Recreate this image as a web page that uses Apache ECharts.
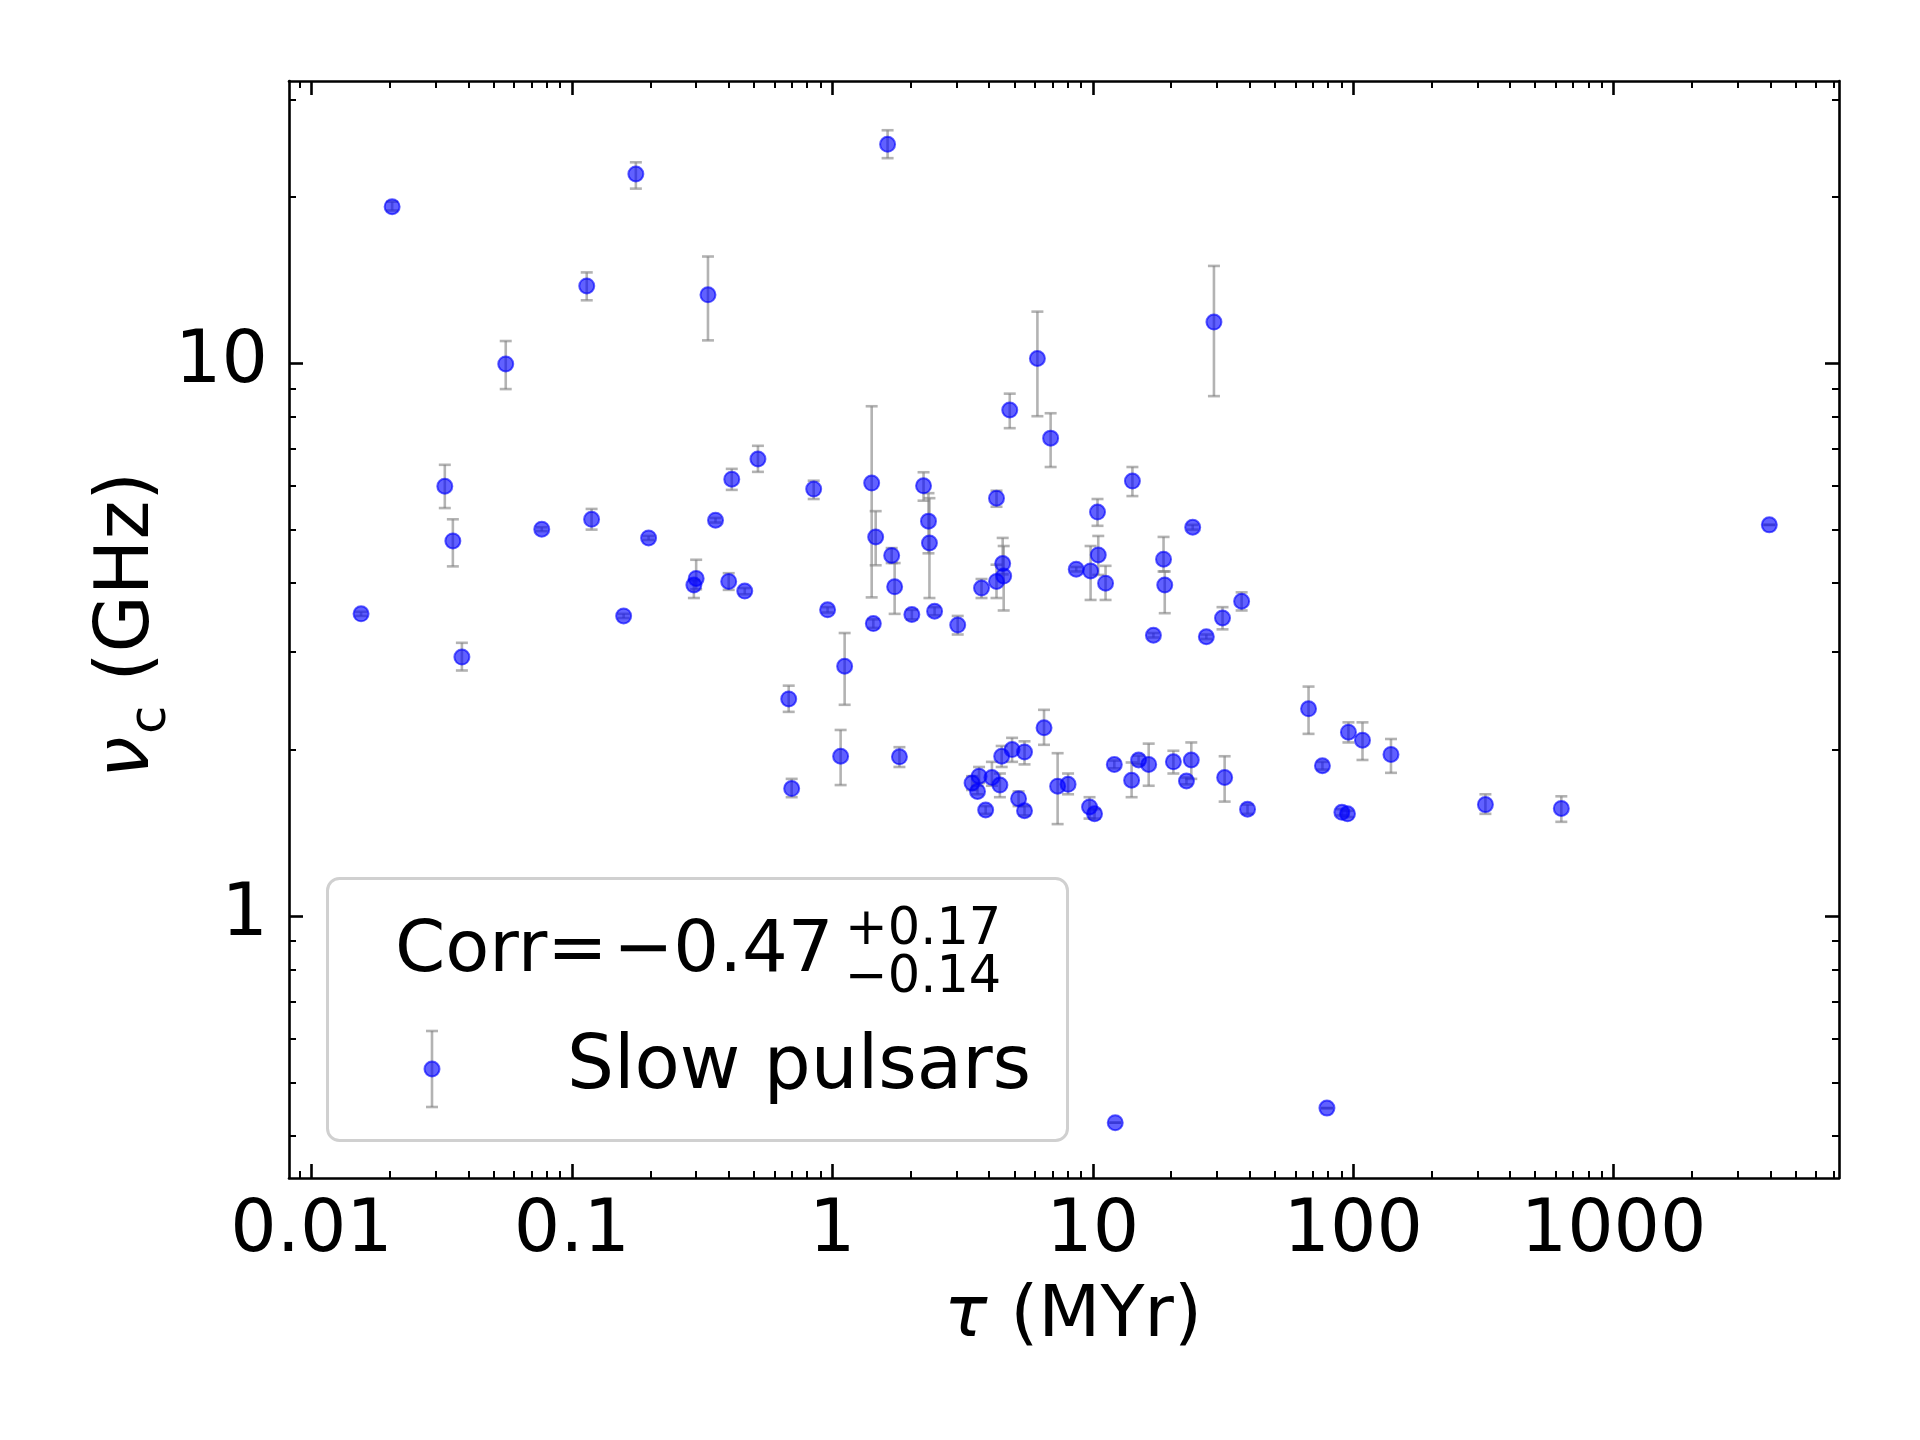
<!DOCTYPE html>
<html>
<head>
<meta charset="utf-8">
<script src="https://cdn.jsdelivr.net/npm/echarts@6/dist/echarts.min.js"></script>
<style>
html,body{margin:0;padding:0;background:#fff;}
#chart{width:1920px;height:1440px;}
</style>
</head>
<body>
<div id="chart"></div>
<script>
// ---- data (tau in MYr, nu_c in GHz, error bar upper / lower ends in GHz) ----
const tau = [0.0155,0.0204,0.0325,0.0349,0.0378,0.0557,0.0766,0.114,0.119,0.158,
  0.176,0.197,0.294,0.300,0.333,0.356,0.400,0.411,0.461,0.518,
  0.680,0.698,0.848,0.959,1.076,1.115,1.416,1.437,1.467,1.63,
  1.69,1.735,1.81,2.02,2.24,2.34,2.36,2.47,3.03,3.44,
  3.61,3.66,3.74,3.88,4.10,4.27,4.27,4.40,4.47,4.51,
  4.55,4.80,4.90,5.19,5.47,5.47,6.13,6.5,6.89,7.33,
  8.04,8.64,9.72,9.81,10.16,10.43,10.5,11.2,12.1,12.2,
  14.1,14.2,15.0,16.4,17.1,18.7,18.9,20.4,22.9,23.9,
  24.2,27.3,29.2,31.5,32.1,37.3,39.3,67.4,76.2,79.3,
  90.5,95.1,95.9,108.6,139.7,322,630,3963];
const nu = [3.52,19.2,5.99,4.77,2.94,9.97,5.01,13.8,5.22,3.49,
  22.0,4.83,3.97,4.08,13.3,5.20,4.03,6.17,3.87,6.71,
  2.47,1.70,5.92,3.58,1.945,2.83,6.07,3.38,4.85,24.9,
  4.49,3.94,1.94,3.51,6.00,5.18,4.73,3.56,3.36,1.74,
  1.68,1.79,3.92,1.555,1.78,5.70,4.03,1.725,1.945,4.34,
  4.12,8.23,2.00,1.63,1.98,1.55,10.2,2.19,7.32,1.717,
  1.73,4.24,1.575,4.21,1.53,5.38,4.50,4.00,1.88,0.4225,
  1.76,6.12,1.915,1.88,3.22,4.42,3.97,1.90,1.755,1.915,
  5.05,3.20,11.87,3.46,1.78,3.71,1.56,2.37,1.87,0.449,
  1.54,1.53,2.15,2.08,1.96,1.59,1.565,5.10];
const nuUp = [3.55,19.6,6.55,5.22,3.12,10.97,5.05,14.6,5.45,3.52,
  23.1,4.87,4.05,4.41,15.6,5.25,4.17,6.44,3.92,7.09,
  2.61,1.77,6.13,3.62,2.17,3.25,8.36,3.44,5.40,26.4,
  4.63,4.35,2.02,3.58,6.35,5.82,5.70,3.62,3.49,1.79,
  1.72,1.86,4.07,1.58,1.90,5.88,4.32,1.81,2.03,4.83,
  4.67,8.81,2.10,1.68,2.07,1.58,12.4,2.36,8.12,1.97,
  1.81,4.28,1.64,4.67,1.56,5.68,4.87,4.30,1.91,0.4225,
  1.895,6.49,1.95,2.05,3.25,4.85,4.20,1.99,1.78,2.06,
  5.10,3.23,15.0,3.62,1.945,3.85,1.59,2.60,1.90,0.449,
  1.56,1.55,2.24,2.24,2.09,1.66,1.646,5.10];
const nuLow = [3.49,18.9,5.47,4.29,2.78,8.98,4.97,13.0,5.00,3.46,
  20.7,4.79,3.76,3.90,11.0,5.15,3.89,5.90,3.82,6.36,
  2.34,1.64,5.68,3.54,1.725,2.41,3.77,3.32,4.31,23.5,
  4.35,3.52,1.86,3.44,5.64,4.53,3.76,3.50,3.23,1.69,
  1.66,1.74,3.76,1.53,1.72,5.50,3.76,1.64,1.86,4.15,
  3.57,7.63,1.90,1.58,1.88,1.52,8.02,2.04,6.49,1.466,
  1.66,4.20,1.50,3.73,1.50,5.08,4.14,3.73,1.85,0.4225,
  1.64,5.75,1.88,1.72,3.19,4.20,3.53,1.81,1.73,1.77,
  5.00,3.17,8.72,3.30,1.61,3.57,1.53,2.135,1.84,0.449,
  1.52,1.51,2.06,1.915,1.815,1.53,1.48,5.10];

const xTickValues = [0.01, 0.1, 1, 10, 100, 1000];
const xTickLabels = ['0.01', '0.1', '1', '10', '100', '1000'];
const yTickValues = [1, 10];
const yTickLabels = ['1', '10'];

const seriesName = 'Slow pulsars';
const corrLead = 'Corr=';
const corrValue = '\u22120.47';
const corrUp = '+0.17';
const corrDown = '\u22120.14';

// ---- layout ----
const X_MIN = -2.0864, X_MAX = 3.8656;
const Y_MIN = -0.4742, Y_MAX = 1.5107;
const FONT = 'DejaVu Sans';
const gridBox = {left: 289, top: 81, right: 81, bottom: 262};

const lg = Math.log10;
function minorTicks(lo, hi) {
  const out = [];
  for (let n = -4; n <= 4; n++) {
    for (let k = 2; k <= 9; k++) {
      const v = lg(k) + n;
      if (v > lo && v < hi) out.push(v);
    }
  }
  return out;
}
const xMajor = xTickValues.map(lg);
const yMajor = yTickValues.map(lg);
const xMinor = minorTicks(X_MIN, X_MAX);
const yMinor = minorTicks(Y_MIN, Y_MAX);

function labelFor(values, labels) {
  return function (v) {
    for (let i = 0; i < values.length; i++) {
      if (Math.abs(lg(values[i]) - v) < 1e-6) return labels[i];
    }
    return '';
  };
}

function xAxisDef(gridIndex, position, major, showLabel) {
  return {
    type: 'value', gridIndex: gridIndex, position: position,
    min: X_MIN, max: X_MAX,
    splitLine: {show: false},
    axisLine: {show: major, onZero: false, lineStyle: {color: '#000', width: 2.6}},
    axisTick: {show: true, inside: true, length: major ? 14 : 7,
      customValues: major ? xMajor : xMinor,
      lineStyle: {color: '#000', width: major ? 2.6 : 2}},
    axisLabel: {show: showLabel, customValues: xMajor, formatter: labelFor(xTickValues, xTickLabels),
      margin: 54, verticalAlign: 'middle', color: '#000', fontFamily: FONT, fontSize: 73, lineHeight: 73},
    z: 10
  };
}
function yAxisDef(gridIndex, position, major, showLabel) {
  return {
    type: 'value', gridIndex: gridIndex, position: position,
    min: Y_MIN, max: Y_MAX,
    splitLine: {show: false},
    axisLine: {show: major, onZero: false, lineStyle: {color: '#000', width: 2.6}},
    axisTick: {show: true, inside: true, length: major ? 14 : 7,
      customValues: major ? yMajor : yMinor,
      lineStyle: {color: '#000', width: major ? 2.6 : 2}},
    axisLabel: {show: showLabel, customValues: yMajor, formatter: labelFor(yTickValues, yTickLabels),
      margin: 21, align: 'right', verticalAlign: 'middle', color: '#000', fontFamily: FONT, fontSize: 73},
    z: 10
  };
}

const errData = tau.map((t, i) => [lg(t), lg(nuUp[i]), lg(nuLow[i])]);
const ptData = tau.map((t, i) => [lg(t), lg(nu[i])]);

const ERR_COLOR = 'rgba(128,128,128,0.6)';
const PT_COLOR = 'rgba(0,0,255,0.62)';

const chart = echarts.init(document.getElementById('chart'), null, {renderer: 'canvas'});
chart.setOption({
  animation: false,
  backgroundColor: '#ffffff',
  grid: [Object.assign({}, gridBox), Object.assign({}, gridBox)],
  xAxis: [
    xAxisDef(0, 'bottom', true, true),
    xAxisDef(0, 'top', true, false),
    xAxisDef(1, 'bottom', false, false),
    xAxisDef(1, 'top', false, false)
  ],
  yAxis: [
    yAxisDef(0, 'left', true, true),
    yAxisDef(0, 'right', true, false),
    yAxisDef(1, 'left', false, false),
    yAxisDef(1, 'right', false, false)
  ],
  series: [
    {
      type: 'custom', name: seriesName + ' err', xAxisIndex: 0, yAxisIndex: 0,
      data: errData, encode: {x: 0, y: [1, 2]}, z: 2, clip: true,
      renderItem: function (params, api) {
        const x = api.value(0);
        const p1 = api.coord([x, api.value(1)]);
        const p2 = api.coord([x, api.value(2)]);
        const hw = 6;
        const st = {stroke: ERR_COLOR, lineWidth: 2.6};
        return {type: 'group', children: [
          {type: 'line', shape: {x1: p1[0], y1: p1[1], x2: p2[0], y2: p2[1]}, style: st},
          {type: 'line', shape: {x1: p1[0] - hw, y1: p1[1], x2: p1[0] + hw, y2: p1[1]}, style: st},
          {type: 'line', shape: {x1: p2[0] - hw, y1: p2[1], x2: p2[0] + hw, y2: p2[1]}, style: st}
        ]};
      }
    },
    {
      type: 'scatter', name: seriesName, xAxisIndex: 0, yAxisIndex: 0,
      data: ptData, symbol: 'circle', symbolSize: 15, z: 3,
      itemStyle: {color: PT_COLOR, borderColor: PT_COLOR, borderWidth: 2, opacity: 1}
    }
  ],
  graphic: [
    // legend box
    {type: 'rect', left: 326, top: 877, z: 100,
      shape: {width: 740, height: 262, r: 12},
      style: {fill: '#ffffff', stroke: '#d0d0d0', lineWidth: 3}},
    {type: 'text', x: 395, y: 951.8, z: 101,
      style: {text: corrLead, fontFamily: FONT, fontSize: 72, fill: '#000', verticalAlign: 'middle', align: 'left'}},
    {type: 'text', x: 613, y: 951.8, z: 101,
      style: {text: corrValue, fontFamily: FONT, fontSize: 72, fill: '#000', verticalAlign: 'middle', align: 'left'}},
    {type: 'text', x: 845, y: 930.5, z: 101,
      style: {text: corrUp, fontFamily: FONT, fontSize: 51, fill: '#000', verticalAlign: 'middle', align: 'left'}},
    {type: 'text', x: 845, y: 979, z: 101,
      style: {text: corrDown, fontFamily: FONT, fontSize: 51, fill: '#000', verticalAlign: 'middle', align: 'left'}},
    {type: 'line', z: 101, shape: {x1: 432, y1: 1031, x2: 432, y2: 1107}, style: {stroke: ERR_COLOR, lineWidth: 2.6}},
    {type: 'line', z: 101, shape: {x1: 426, y1: 1031, x2: 438, y2: 1031}, style: {stroke: ERR_COLOR, lineWidth: 2.6}},
    {type: 'line', z: 101, shape: {x1: 426, y1: 1107, x2: 438, y2: 1107}, style: {stroke: ERR_COLOR, lineWidth: 2.6}},
    {type: 'circle', z: 102, shape: {cx: 432, cy: 1069, r: 7.5}, style: {fill: PT_COLOR, stroke: PT_COLOR, lineWidth: 2}},
    {type: 'text', x: 567, y: 1069, z: 101,
      style: {text: seriesName, fontFamily: FONT, fontSize: 74, fill: '#000', verticalAlign: 'middle', align: 'left'}},
    // x axis title
    {type: 'text', x: 1073, y: 1317, z: 50,
      style: {text: '{i|\u03c4} (MYr)', fontFamily: FONT, fontSize: 72, fill: '#000',
        align: 'center', verticalAlign: 'middle',
        rich: {i: {fontFamily: FONT, fontSize: 72, fontStyle: 'italic', fill: '#000'}}}},
    // y axis title (rotated)
    {type: 'group', x: 129, y: 626, rotation: Math.PI / 2, z: 50, children: [
      {type: 'text', x: -152, y: 0,
        style: {text: '\u03bd', fontFamily: FONT, fontSize: 74, fontStyle: 'italic', fill: '#000', align: 'left', verticalAlign: 'middle'}},
      {type: 'text', x: -108, y: 22,
        style: {text: 'c', fontFamily: FONT, fontSize: 52, fill: '#000', align: 'left', verticalAlign: 'middle'}},
      {type: 'text', x: -79, y: 0,
        style: {text: ' (GHz)', fontFamily: FONT, fontSize: 74, fill: '#000', align: 'left', verticalAlign: 'middle'}}
    ]}
  ]
});
</script>
</body>
</html>
